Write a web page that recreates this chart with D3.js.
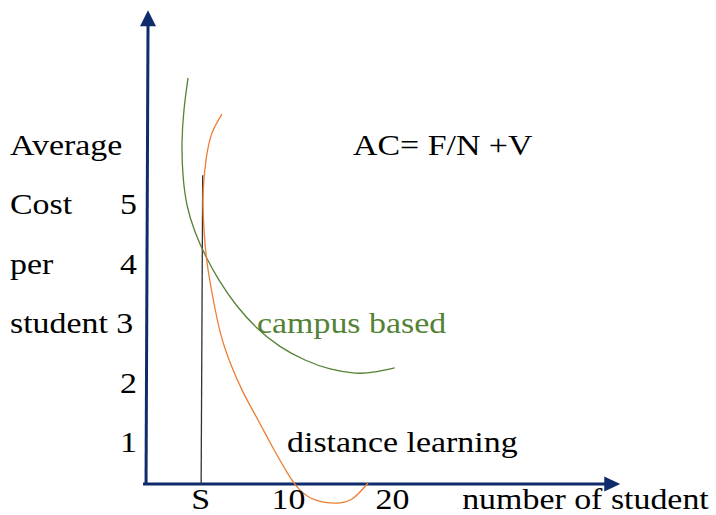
<!DOCTYPE html>
<html>
<head>
<meta charset="utf-8">
<script src="https://cdn.jsdelivr.net/npm/d3@7"></script>
<style>
  html, body { margin: 0; padding: 0; background: #fff; }
  svg { display: block; }
  svg text { font-family: "Liberation Serif", Tinos, "Times New Roman", "DejaVu Serif", "Noto Serif", serif; }
</style>
</head>
<body>
<div id="chart"></div>
<script>
// cost ticks and the y title words, one per row
const yTicks = [1, 2, 3, 4, 5];
const yTitle = ["Average", "Cost", "per", "student"];
const yTitleRows = [6, 5, 4, 3];

// x tick labels (S is the break-even size)
const xTickLabels = ["S", "10", "20"];
const xTickValues = [1.55, 10, 20];
const sLine = [1.6, 1.75]; // S marker, bottom -> top x value
const sTop = 5.49;

// campus based curve (number of students, average cost)
const campusN    = [0.34, -0.05, -0.24, -0.14, 0.24, 1.01, 2.07, 3.41, 5.05, 6.97, 9.18, 11.59, 14.0, 16.4, 18.3, 20.2];
const campusCost = [7.13, 6.59, 6.03, 5.49, 4.99, 4.54, 4.12, 3.70, 3.29, 2.92, 2.61, 2.38, 2.23, 2.16, 2.18, 2.25];

// distance learning curve
const distN    = [3.61, 2.64, 2.07, 1.78, 1.88, 2.16, 2.74, 3.51, 4.47, 5.63, 7.07, 8.45, 9.86, 11.11, 12.64, 14.47, 16.11, 17.64];
const distCost = [6.52, 6.20, 5.75, 5.16, 4.57, 4.03, 3.42, 2.80, 2.30, 1.84, 1.37, 0.92, 0.49, 0.19, 0.02, -0.03, 0.04, 0.31];

const W = 716, H = 515;
const SX = 1.13; // text is stretched a bit wider than normal
const navy = "#0f2b6b";
const green = "#548235";
const orange = "#ed7d31";

const x = d3.scaleLinear().domain([0, 20]).range([184.5, 392.5]);
const y = d3.scaleLinear().domain([0, 5]).range([501.4, 204.4]);
const base = v => y(v) + 10; // text baseline for a row

const svg = d3.select("#chart").append("svg")
    .attr("width", W)
    .attr("height", H);

function addText(str, px, py, anchor, color) {
    return svg.append("text")
        .attr("transform", `translate(${px},${py}) scale(${SX},1)`)
        .attr("text-anchor", anchor || "start")
        .attr("font-size", 30)
        .attr("fill", color || "#000")
        .text(str);
}

// axes
const axY0 = 0.293, axX0 = -3.7;
const xEnd = 41.9, yEnd = 8.27;
svg.append("line")
    .attr("x1", x(axX0) - 3).attr("y1", y(axY0))
    .attr("x2", x(xEnd) - 14).attr("y2", y(axY0))
    .attr("stroke", navy).attr("stroke-width", 3);
svg.append("path")
    .attr("d", `M${x(xEnd)},${y(axY0)} L${x(xEnd) - 16},${y(axY0) - 7.5} L${x(xEnd) - 16},${y(axY0) + 7.5} Z`)
    .attr("fill", navy);
svg.append("line")
    .attr("x1", x(axX0)).attr("y1", y(axY0))
    .attr("x2", x(axX0) + 2).attr("y2", y(yEnd) + 14)
    .attr("stroke", navy).attr("stroke-width", 3);
svg.append("path")
    .attr("d", `M${x(axX0) + 2},${y(yEnd)} L${x(axX0) - 6},${y(yEnd) + 16} L${x(axX0) + 10},${y(yEnd) + 16} Z`)
    .attr("fill", navy);

// S marker line
svg.append("line")
    .attr("x1", x(sLine[0])).attr("y1", y(axY0))
    .attr("x2", x(sLine[1])).attr("y2", y(sTop))
    .attr("stroke", "#333").attr("stroke-width", 1.3);

// curves
const line = d3.line()
    .x(d => x(d[0]))
    .y(d => y(d[1]))
    .curve(d3.curveNatural);

svg.append("path")
    .datum(d3.zip(campusN, campusCost))
    .attr("d", line)
    .attr("fill", "none")
    .attr("stroke", green)
    .attr("stroke-width", 1.3);

svg.append("path")
    .datum(d3.zip(distN, distCost))
    .attr("d", line)
    .attr("fill", "none")
    .attr("stroke", orange)
    .attr("stroke-width", 1.3);

// y title + ticks
yTitle.forEach((t, i) => {
    const row = yTitleRows[i];
    if (yTicks.indexOf(row) >= 0 && t == "student") {
        addText(t + " " + row, 10, base(row));
    } else {
        addText(t, 10, base(row));
    }
});
yTicks.forEach(v => {
    if (v == 3) return;
    addText(String(v), 137, base(v), "end");
});

// x ticks
xTickLabels.forEach((t, i) => {
    addText(t, x(xTickValues[i]), base(0) - 2, "middle");
});
addText("number of student", x(26.7), base(0) - 2);

// annotations
addText("AC= F/N +V", x(16.2), base(6));
addText("campus based", x(6.97), base(3), "start", green);
addText("distance learning", x(9.86), base(1));
</script>
</body>
</html>
